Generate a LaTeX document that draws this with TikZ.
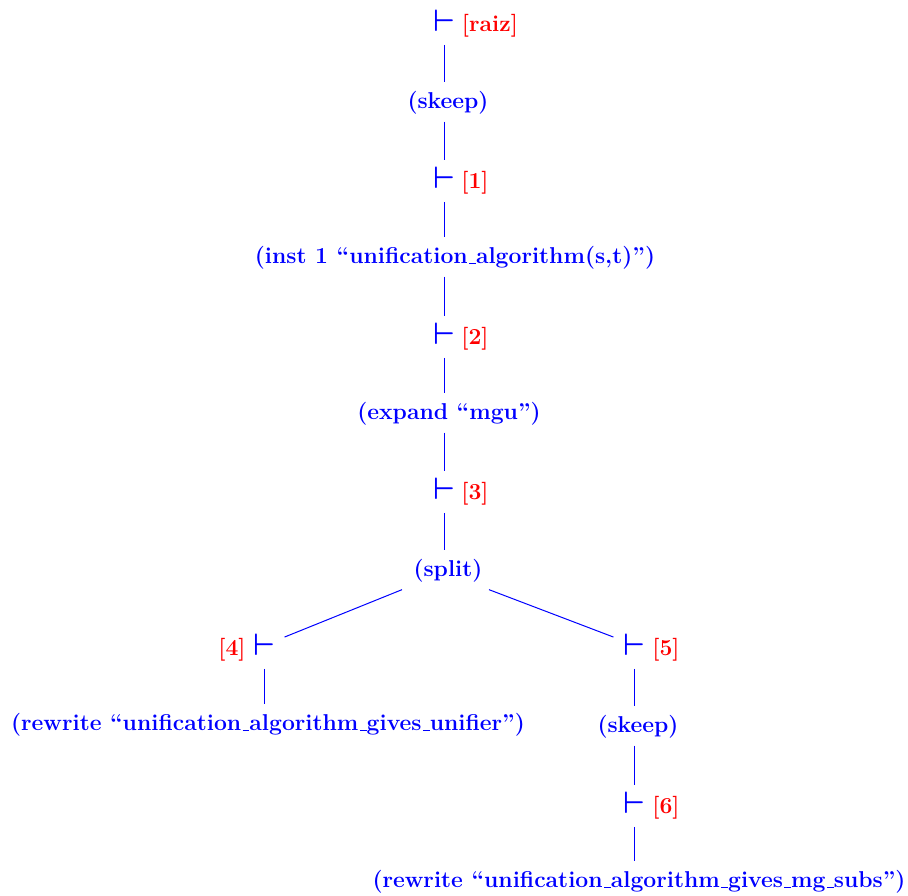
\documentclass[tikz,border=0pt]{standalone}
\usetikzlibrary{calc}
% short ruled underscore, as in the classic OT1 bold fonts
\newcommand\ul{\leavevmode\kern.06em\vbox{\hrule width.3em height .55pt}}
\newcommand\turnstile{\scalebox{3.1}{\boldmath$\vdash$}}
\begin{document}
\begin{tikzpicture}[x=1pt,y=-1pt,
  rulebox/.style={text=blue, font=\fontsize{22.9}{27}\selectfont\bfseries, inner sep=0pt},
  seqbox/.style={text=blue, inner sep=0pt},
  seqlabel/.style={text=red, font=\fontsize{22.9}{27}\selectfont\bfseries, inner sep=0pt},
  link/.style={draw=blue, line width=1pt},
  linkdown/.style={link, shorten <=13pt, shorten >=9pt},
  linkup/.style={link, shorten <=7pt, shorten >=7pt}]
\useasboundingbox (0,0) rectangle (908,896);

% sequents and their labels
\node[seqbox] (s0) at (444,21) {\turnstile};
\node[seqlabel] (l0) at (490,26) {[raiz]};
\node[seqbox] (s1) at (444,178) {\turnstile};
\node[seqlabel] (l1) at (475,183) {[1]};
\node[seqbox] (s2) at (444,334) {\turnstile};
\node[seqlabel] (l2) at (475,339) {[2]};
\node[seqbox] (s3) at (444,489) {\turnstile};
\node[seqlabel] (l3) at (475,494) {[3]};
\node[seqbox] (s4) at (264.5,645) {\turnstile};
\node[seqlabel] (l4) at (232,650) {[4]};
\node[seqbox] (s5) at (634.5,645) {\turnstile};
\node[seqlabel] (l5) at (666,650) {[5]};
\node[seqbox] (s6) at (634.5,803) {\turnstile};
\node[seqlabel] (l6) at (666,808) {[6]};

% proof commands
\node[rulebox] (r1) at (448,103) {(skeep)};
\node[rulebox] (r2) at (455,258) {(inst 1 ``unification\ul algorithm(s,t)'')};
\node[rulebox] (r3) at (449,414) {(expand ``mgu'')};
\node[rulebox] (r4) at (448,571) {(split)};
\node[rulebox] (r5) at (268,725) {(rewrite ``unification\ul algorithm\ul gives\ul unifier'')};
\node[rulebox] (r6) at (638,727) {(skeep)};
\node[rulebox] (r7) at (639,882) {(rewrite ``unification\ul algorithm\ul gives\ul mg\ul subs'')};

% branches of the proof tree
\draw[linkdown] (s0.south) -- (s0.south |- r1.north);
\draw[linkup]   (r1.south -| s1) -- (s1.north);
\draw[linkdown] (s1.south) -- (s1.south |- r2.north);
\draw[linkup]   (r2.south -| s2) -- (s2.north);
\draw[linkdown] (s2.south) -- (s2.south |- r3.north);
\draw[linkup]   (r3.south -| s3) -- (s3.north);
\draw[linkdown] (s3.south) -- (s3.south |- r4.north);
\draw[link] ($(r4.south)+(-46,7)$) -- ($(s4.north east)+(9,3)$);
\draw[link] ($(r4.south)+(41,7)$) -- ($(s5.north west)+(-10,3)$);
\draw[linkdown] (s4.south) -- (s4.south |- r5.north);
\draw[linkdown] (s5.south) -- (s5.south |- r6.north);
\draw[linkup]   (r6.south -| s6) -- (s6.north);
\draw[linkdown] (s6.south) -- (s6.south |- r7.north);
\end{tikzpicture}
\end{document}
